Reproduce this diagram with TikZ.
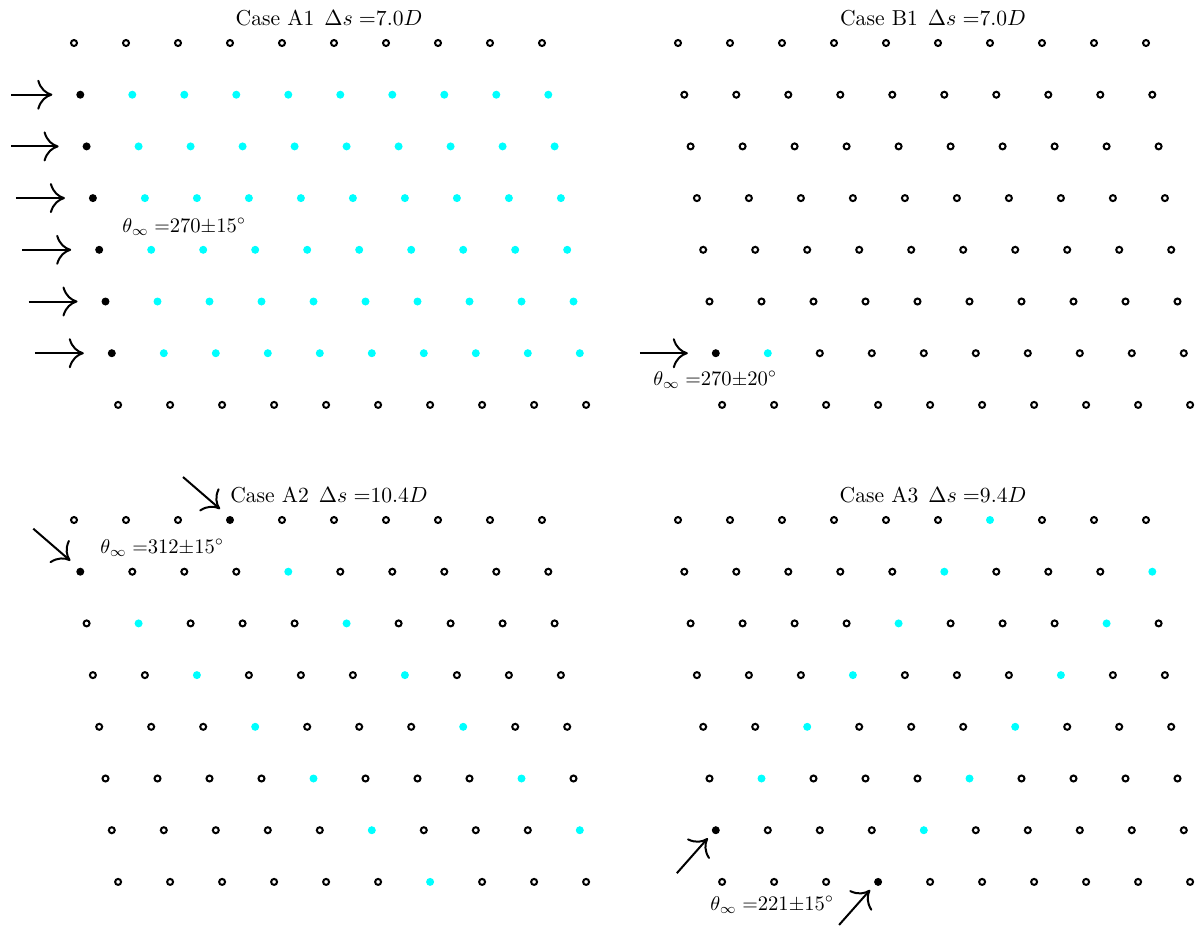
\documentclass[tikz,border=0pt]{standalone}
\usepackage{xcolor}
\usepackage{tikz}
\usetikzlibrary{arrows.meta, positioning}

\definecolor{wake}{RGB}{0,255,255}

\begin{document}
\begin{tikzpicture}[x=0.5pt, y=-0.5pt,
        cyl0/.style={circle, draw=black, line width=1pt, inner sep=0pt, minimum size=3pt},
        cyl1/.style={circle, fill=black, inner sep=0pt, minimum size=4pt},
        cyl2/.style={circle, fill=wake, inner sep=0pt, minimum size=4pt},
        flow/.style={-{Computer Modern Rightarrow[length=7.5pt, width=15pt]}, line width=1pt},
        lbl/.style={font=\fontsize{10.3}{12}\selectfont, inner sep=0pt},
        ttl/.style={font=\fontsize{10.8}{13}\selectfont, inner sep=0pt, anchor=base}]
    \useasboundingbox (0,0) rectangle (1200,927);
    % cylinder rows: 0 = idle, 1 = first hit, 2 = in the wake
    \foreach \pan/\ox/\oy/\sel in {
        a1/0/0/(\row>0)*(\row<7)*(1+(\col>0)),
        b1/604/0/(\row==6)*((\col==0)+2*(\col==1)),
        a2/0/477/(\col-\row==3)*(1+(\row>0))+(\col-\row==-1)*(1+(\row>1)),
        a3/604/477/(\col+\row==6)*(1+(\col>0))+(\col+\row==10)*(1+(\row<7))}
      \foreach \row in {0,...,7}
        \foreach \col in {0,...,9} {
          \pgfmathtruncatemacro\k{\sel}
          \node[cyl\k] (\pan-\row-\col) at (\ox+74+52*\col+6.3*\row, \oy+43+51.7*\row) {};
        }

    \node[ttl] (t-a1) at (329,25) {Case A1\hspace{5pt}$\Delta s =$7.0$D$};
    \node[ttl] (t-b1) at (933,25) {Case B1\hspace{5pt}$\Delta s =$7.0$D$};
    \node[ttl] (t-a2) at (329,502) {Case A2\hspace{5pt}$\Delta s =$10.4$D$};
    \node[ttl] (t-a3) at (933,502) {Case A3\hspace{5pt}$\Delta s =$9.4$D$};

    \node[lbl, anchor=base west] (th-a1) at (122,232) {$\theta_\infty =$270$\pm$15$^\circ$};
    \node[lbl, anchor=base west] (th-b1) at (653,385) {$\theta_\infty =$270$\pm$20$^\circ$};
    \node[lbl, anchor=base west] (th-a2) at (100,553) {$\theta_\infty =$312$\pm$15$^\circ$};
    \node[lbl, anchor=base west] (th-a3) at (710,910) {$\theta_\infty =$221$\pm$15$^\circ$};

    % incoming flow
    \begin{scope}
        \clip (11,0) rectangle (600,460);
        \foreach \row in {1,...,6}
            \draw[flow] ([shift={(-77,0)}]a1-\row-0.center) -- ([shift={(-28,0)}]a1-\row-0.center);
    \end{scope}
    \draw[flow] ([shift={(-76,0)}]b1-6-0.center) -- ([shift={(-28,0)}]b1-6-0.center);
    \draw[flow] ([shift={(-47,-43)}]a2-1-0.center) -- ([shift={(-10,-11)}]a2-1-0.center);
    \draw[flow] ([shift={(-47,-43)}]a2-0-3.center) -- ([shift={(-10,-11)}]a2-0-3.center);
    \draw[flow] ([shift={(-39,43)}]a3-6-0.center) -- ([shift={(-8,8)}]a3-6-0.center);
    \draw[flow] ([shift={(-39,43)}]a3-7-3.center) -- ([shift={(-8,8)}]a3-7-3.center);
\end{tikzpicture}
\end{document}
